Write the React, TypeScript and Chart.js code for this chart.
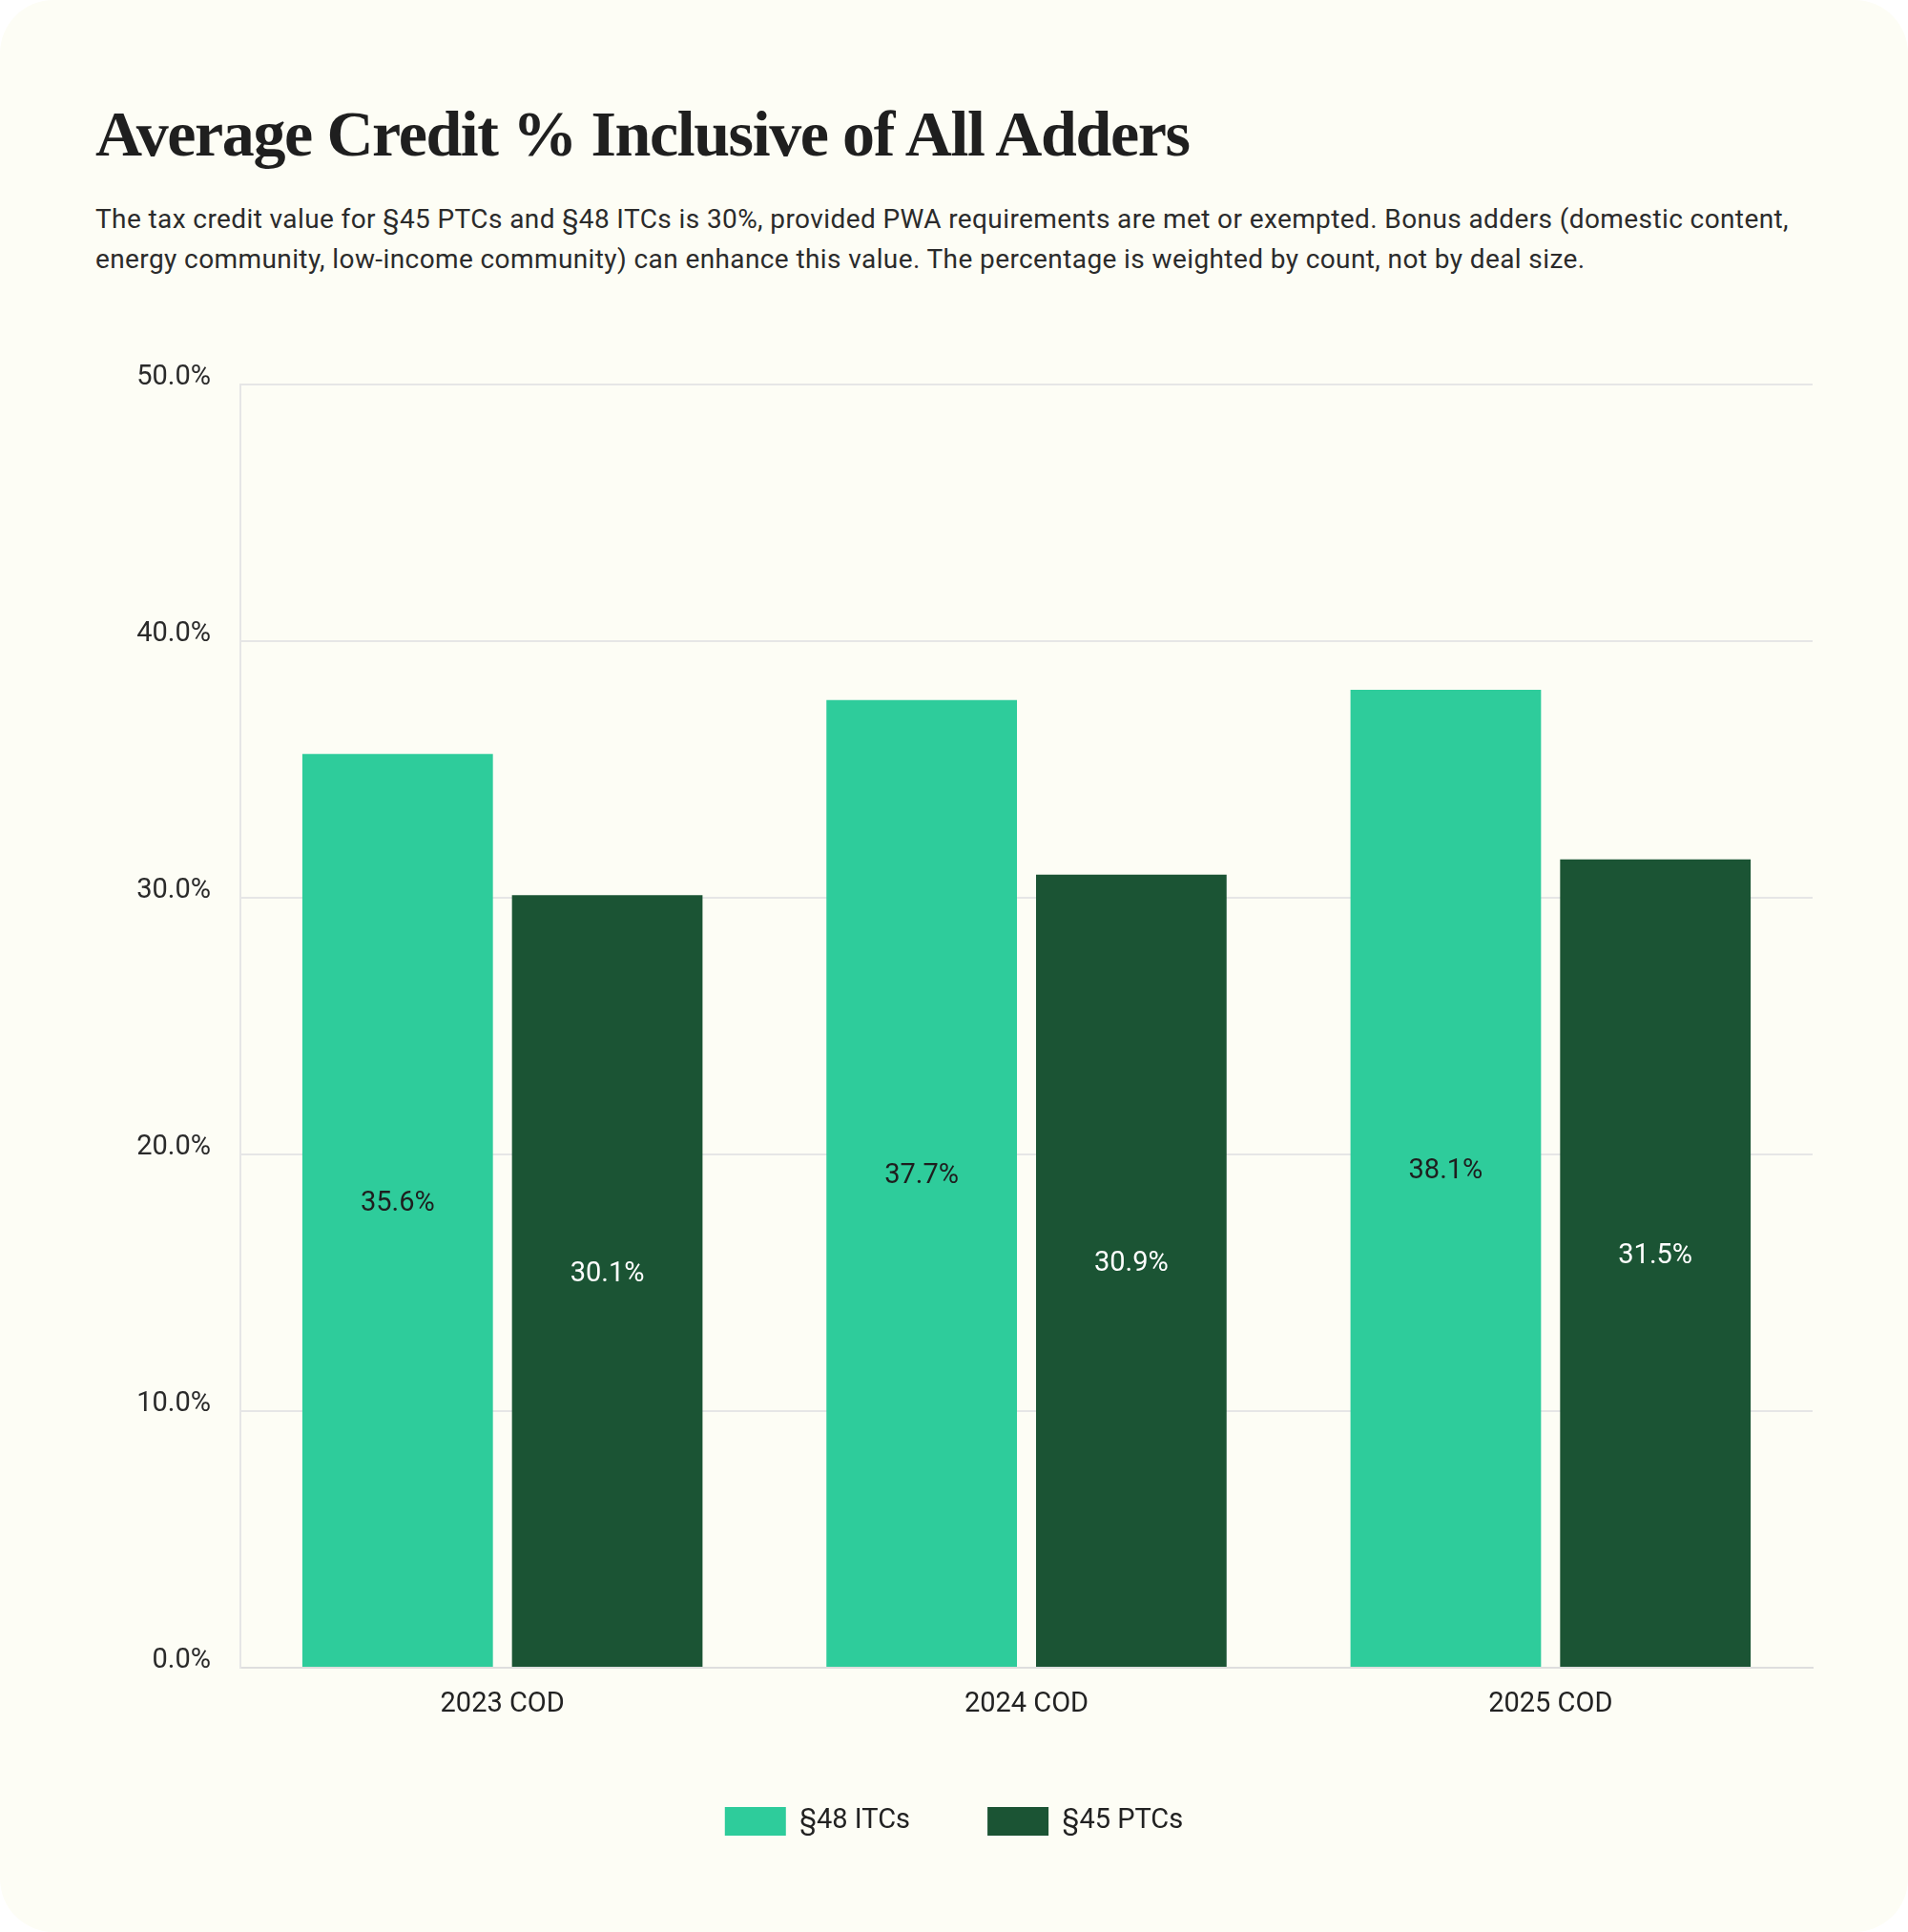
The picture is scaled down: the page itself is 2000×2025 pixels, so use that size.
import React, { useEffect, useRef } from 'react';
import { Chart, registerables } from 'chart.js';

Chart.register(...registerables);

const categories = ['2023 COD', '2024 COD', '2025 COD'];
const itcValues = [35.6, 37.7, 38.1];
const ptcValues = [30.1, 30.9, 31.5];
const seriesNames = ['§48 ITCs', '§45 PTCs'];
const seriesColors = ['#2ECC9B', '#1B5434'];
const labelColors = ['#1E1E1E', '#FFFFFF'];
const yMin = 0;
const yMax = 50;
const yStep = 10;

const FONT = 'Roboto, "Noto Sans", sans-serif';

// values written in the middle of each bar, baseline on the bar centre
const barLabels = {
    id: 'barLabels',
    afterDatasetsDraw(chart: any) {
        const ctx = chart.ctx;
        ctx.save();
        ctx.font = `29px ${FONT}`;
        ctx.textAlign = 'center';
        ctx.textBaseline = 'alphabetic';
        chart.data.datasets.forEach((ds: any, i: number) => {
            const meta = chart.getDatasetMeta(i);
            meta.data.forEach((bar: any, j: number) => {
                ctx.fillStyle = labelColors[i];
                ctx.fillText(ds.data[j].toFixed(1) + '%', bar.x, (bar.y + bar.base) / 2);
            });
        });
        ctx.restore();
    },
};

const CreditChart = () => {
    const chartRef = useRef<HTMLCanvasElement | null>(null);

    useEffect(() => {
        if (!chartRef.current) return;
        const ctx = chartRef.current.getContext('2d');
        if (!ctx) return;

        const myChart = new Chart(ctx, {
            type: 'bar',
            data: {
                labels: categories,
                datasets: [
                    { label: seriesNames[0], data: itcValues, backgroundColor: seriesColors[0], borderWidth: 0 },
                    { label: seriesNames[1], data: ptcValues, backgroundColor: seriesColors[1], borderWidth: 0 },
                ],
            },
            options: {
                animation: false,
                responsive: true,
                maintainAspectRatio: false,
                categoryPercentage: 0.8,
                barPercentage: 0.909,
                layout: { padding: { left: 100, right: 100, top: 103, bottom: 91 } },
                plugins: {
                    tooltip: { enabled: false },
                    legend: {
                        position: 'bottom',
                        labels: {
                            boxWidth: 64,
                            boxHeight: 30,
                            padding: 81,
                            color: '#222222',
                            font: { family: FONT, size: 29 },
                        },
                    },
                },
                scales: {
                    x: {
                        grid: { display: false, drawTicks: false },
                        border: { display: true, color: '#DEDEDE', width: 2 },
                        ticks: { color: '#222222', padding: 21, font: { family: FONT, size: 29 } },
                        afterFit: (s: any) => { s.height = 65; },
                    },
                    y: {
                        min: yMin,
                        max: yMax,
                        grid: { color: '#E6E6E6', lineWidth: 2, drawTicks: false },
                        border: { display: true, color: '#E6E6E6', width: 2 },
                        ticks: {
                            stepSize: yStep,
                            padding: 31,
                            labelOffset: -7,
                            color: '#2A2A2A',
                            font: { family: FONT, size: 29 },
                            callback: (v: any) => Number(v).toFixed(1) + '%',
                        },
                        afterFit: (s: any) => { s.width = 152; },
                    },
                },
            },
            plugins: [barLabels],
        });

        return () => {
            myChart.destroy();
        };
    }, []);

    return (
        <div style={{ position: 'absolute', left: 0, top: 300, width: 2000, height: 1725 }}>
            <canvas ref={chartRef}></canvas>
        </div>
    );
};

const App = () => {
    return (
        <div style={{ position: 'absolute', left: 0, top: 0, width: 2000, height: 2025, background: '#FFFFFF', overflow: 'hidden' }}>
            <div style={{ position: 'absolute', inset: 0, background: '#FDFDF5', borderRadius: 56 }}>
                <div
                    style={{
                        position: 'absolute',
                        left: 100,
                        top: 106,
                        fontFamily: '"Liberation Serif", serif',
                        fontWeight: 700,
                        fontSize: 68,
                        lineHeight: '68px',
                        color: '#1F1F1F',
                        whiteSpace: 'nowrap',
                        letterSpacing: -1.4,
                    }}
                >
                    Average Credit % Inclusive of All Adders
                </div>
                <div
                    style={{
                        position: 'absolute',
                        left: 100,
                        top: 209,
                        fontFamily: FONT,
                        fontSize: 28,
                        lineHeight: '42px',
                        color: '#2B2B2B',
                        whiteSpace: 'nowrap',
                        letterSpacing: 0.4,
                    }}
                >
                    The tax credit value for §45 PTCs and §48 ITCs is 30%, provided PWA requirements are met or exempted. Bonus adders (domestic content,
                    <br />
                    energy community, low-income community) can enhance this value. The percentage is weighted by count, not by deal size.
                </div>
                <CreditChart />
            </div>
        </div>
    );
};

export default App;
